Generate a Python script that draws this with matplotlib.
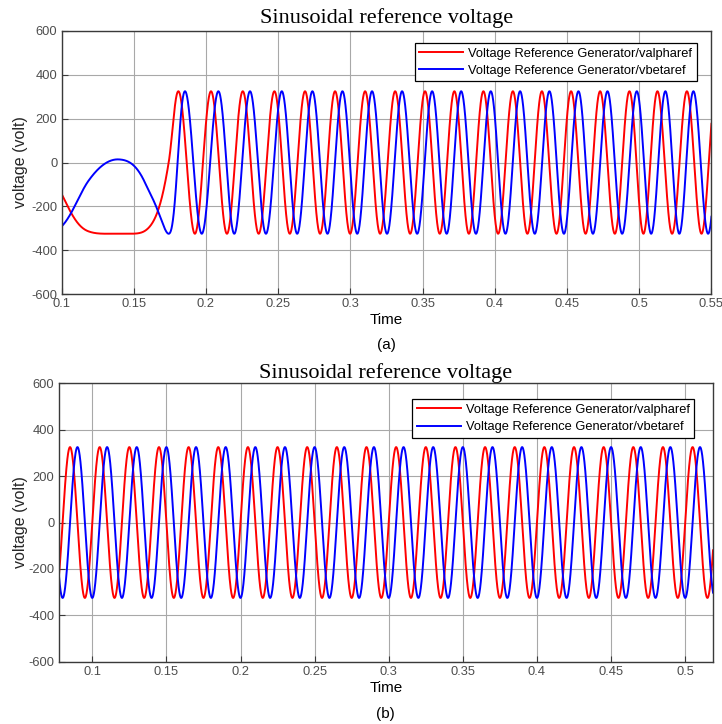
import numpy as np
import matplotlib
matplotlib.use('Agg')
import matplotlib.pyplot as plt
from matplotlib.ticker import FuncFormatter

plt.rcParams['font.family'] = ['Liberation Sans', 'DejaVu Sans']
plt.rcParams['axes.unicode_minus'] = False

amplitude = 325.0
labels = ['Voltage Reference Generator/valpharef', 'Voltage Reference Generator/vbetaref']
title = 'Sinusoidal reference voltage'

# (a) start-up part: phase angle of valpharef in degrees
a_start_t = [0.100, 0.1186, 0.1395, 0.158, 0.1742]
a_start_deg = [244, 195, 177.5, 197, 270]

# (a) times of the positive peaks (s)
a_alpha_peaks = [0.1809, 0.2035, 0.2255, 0.2474, 0.2686, 0.2894, 0.3102, 0.3310, 0.3517,
                 0.3720, 0.3921, 0.4125, 0.4326, 0.4528, 0.4729, 0.4932, 0.5126, 0.5330, 0.5532]
a_beta_peaks = [0.1855, 0.2086, 0.2305, 0.2525, 0.2737, 0.2945, 0.3150, 0.3358, 0.3566,
                0.3767, 0.3972, 0.4175, 0.4378, 0.4579, 0.4780, 0.4983, 0.5181, 0.5375, 0.5580]

# (b) times of the positive peaks (s)
b_alpha_peaks = [0.065, 0.085, 0.105, 0.125, 0.145, 0.165, 0.185, 0.205, 0.225, 0.245, 0.265,
                 0.285, 0.305, 0.325, 0.345, 0.365, 0.385, 0.405, 0.425, 0.445, 0.465,
                 0.485, 0.505, 0.525]
b_beta_peaks = [0.070, 0.090, 0.110, 0.130, 0.150, 0.170, 0.190, 0.210, 0.230, 0.250, 0.270,
                0.290, 0.310, 0.330, 0.350, 0.370, 0.390, 0.410, 0.430, 0.450, 0.470,
                0.490, 0.510, 0.530]


def smooth_phase(t, xk, yk):
    # cubic hermite through the phase readings so the curve has no kinks
    xk = np.asarray(xk, float)
    yk = np.asarray(yk, float)
    m = np.empty_like(yk)
    m[1:-1] = (yk[2:] - yk[:-2]) / (xk[2:] - xk[:-2])
    m[0] = (yk[1] - yk[0]) / (xk[1] - xk[0])
    m[-1] = (yk[-1] - yk[-2]) / (xk[-1] - xk[-2])
    i = np.clip(np.searchsorted(xk, t) - 1, 0, len(xk) - 2)
    h = xk[i + 1] - xk[i]
    s = (t - xk[i]) / h
    h00 = 2 * s**3 - 3 * s**2 + 1
    h10 = s**3 - 2 * s**2 + s
    h01 = -2 * s**3 + 3 * s**2
    h11 = s**3 - s**2
    return h00 * yk[i] + h10 * h * m[i] + h01 * yk[i + 1] + h11 * h * m[i + 1]


def wave(t, knot_t, knot_deg):
    ph = smooth_phase(t, knot_t, knot_deg)
    return amplitude * np.cos(np.deg2rad(ph))


def peak_deg(peaks, first=1):
    return [360.0 * (k + first) for k in range(len(peaks))]


fig = plt.figure(figsize=(7.22, 7.24), dpi=100)
ax1 = fig.add_axes([0.0852, 0.5939, 0.9002, 0.3633])
ax2 = fig.add_axes([0.0812, 0.0860, 0.9064, 0.3846])

# top panel
t1 = np.linspace(0.1, 0.55, 6000)
va = wave(t1, a_start_t + a_alpha_peaks, a_start_deg + peak_deg(a_alpha_peaks))
vb = wave(t1, a_start_t + a_beta_peaks, [d - 90 for d in a_start_deg] + peak_deg(a_beta_peaks))
ax1.plot(t1, va, color='#ff0000', lw=1.4, label=labels[0])
ax1.plot(t1, vb, color='#0000ff', lw=1.4, label=labels[1])
ax1.set_xlim(0.1, 0.55)
ax1.set_xticks(np.arange(0.1, 0.5501, 0.05))

# bottom panel
t2 = np.linspace(0.0773, 0.5188, 6000)
wa = wave(t2, b_alpha_peaks, peak_deg(b_alpha_peaks, 0))
wb = wave(t2, b_beta_peaks, peak_deg(b_beta_peaks, 0))
ax2.plot(t2, wa, color='#ff0000', lw=1.4, label=labels[0])
ax2.plot(t2, wb, color='#0000ff', lw=1.4, label=labels[1])
ax2.set_xlim(0.0773, 0.5188)
ax2.set_xticks(np.arange(0.1, 0.5001, 0.05))

fmt = FuncFormatter(lambda v, p: '%g' % round(v, 3))
for ax, anchor, sub, sub_y, tpad in [(ax1, (0.9777, 0.9544), '(a)', 0.524, 6),
                                     (ax2, (0.9714, 0.9425), '(b)', 0.014, 4)]:
    ax.set_ylim(-600, 600)
    ax.set_yticks(np.arange(-600, 601, 200))
    ax.xaxis.set_major_formatter(fmt)
    ax.grid(True, color='#a8a8a8', lw=0.8)
    ax.set_axisbelow(True)
    for s in ax.spines.values():
        s.set_color('#3a3a3a')
        s.set_linewidth(1.0)
    ax.tick_params(direction='in', length=4, width=0.8, colors='#3a3a3a',
                   labelcolor='#4d4d4d', labelsize=9.3, pad=3)
    ax.set_xlabel('Time', fontsize=11, color='black', labelpad=2)
    ax.set_ylabel('voltage (volt)', fontsize=11.5, color='#262626')
    ax.set_title(title, fontsize=16, family=['Liberation Serif', 'DejaVu Serif'], pad=tpad)
    leg = ax.legend(loc='upper right', bbox_to_anchor=anchor, borderaxespad=0,
                    fontsize=9.3, fancybox=False, framealpha=1, edgecolor='black',
                    handlelength=3.4, handletextpad=0.4, labelspacing=0.4, borderpad=0.35)
    leg.get_frame().set_linewidth(0.9)
    fig.text(ax.get_position().x0 + ax.get_position().width / 2, sub_y, sub,
             ha='center', va='center', fontsize=11)

ax1.yaxis.set_label_coords(-0.0515, 0.5)
ax2.yaxis.set_label_coords(-0.047, 0.5)

fig.savefig('out.png', dpi=100)
